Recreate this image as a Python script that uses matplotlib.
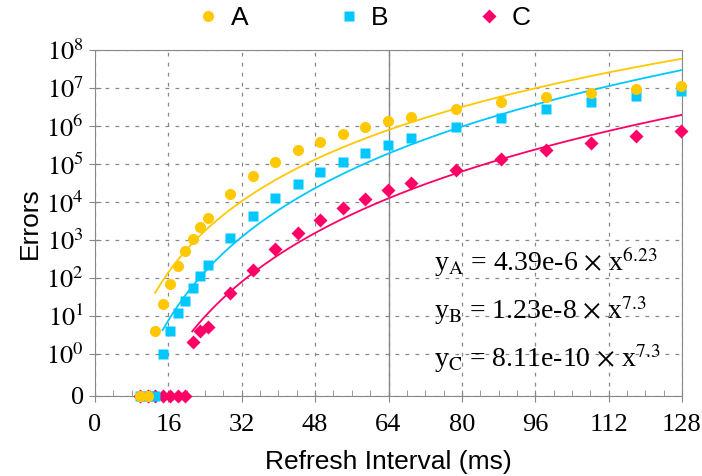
import numpy as np
import matplotlib
matplotlib.use('Agg')
import matplotlib.pyplot as plt
from matplotlib.ticker import NullLocator, FixedLocator

plt.rcParams['font.family'] = 'serif'
plt.rcParams['font.serif'] = ['Liberation Serif', 'DejaVu Serif']
plt.rcParams['mathtext.fontset'] = 'stix'

# data (zeros sit on the "0" row)
x_a = [9.8, 11.5, 13.1, 14.8, 16.4, 18.0, 19.7, 21.3, 23.0, 24.6, 29.5, 34.4, 39.3, 44.2,
       49.1, 54.0, 58.9, 63.8, 68.8, 78.7, 88.5, 98.3, 108.1, 117.9, 127.8]
y_a = [0, 0, 4, 21, 71, 200, 525, 1070, 2140, 3800, 16600, 49000, 115000, 229000,
       389000, 617000, 912000, 1.32e6, 1.74e6, 2.75e6, 4.17e6, 5.75e6, 7.41e6, 9.33e6, 1.15e7]

x_b = [9.8, 11.5, 13.1, 14.8, 16.4, 18.0, 19.7, 21.3, 23.0, 24.6, 29.5, 34.4, 39.3, 44.2,
       49.1, 54.0, 58.9, 63.8, 68.8, 78.7, 88.5, 98.3, 108.1, 117.9, 127.8]
y_b = [0, 0, 0, 1, 4, 12, 24, 54, 110, 214, 1120, 4170, 12600, 28800,
       61700, 112000, 195000, 316000, 479000, 955000, 1.66e6, 2.75e6, 4.17e6, 6.03e6, 8.13e6]

x_c = [9.8, 11.5, 13.1, 14.8, 16.4, 18.0, 19.7, 21.3, 23.0, 24.6, 29.5, 34.4, 39.3, 44.2,
       49.1, 54.0, 58.9, 63.8, 68.8, 78.7, 88.5, 98.3, 108.1, 117.9, 127.8]
y_c = [0, 0, 0, 0, 0, 0, 0, 2, 4, 5, 39, 158, 562, 1480,
       3310, 6760, 12000, 20400, 31600, 70800, 135000, 229000, 355000, 537000, 741000]

# fitted curves y = a * x^b  (a, b, first x of the curve)
fit_a = (4.39e-6, 6.23, 13.1)
fit_b = (1.23e-8, 7.3, 14.75)
fit_c = (8.11e-10, 7.3, 21.2)

names = ['A', 'B', 'C']
colors = ['#FFC800', '#00C8FF', '#FF0066']
markers = ['o', 's', 'D']
msizes = [8, 7.5, 7.5]

x_ticks = [0, 16, 32, 48, 64, 80, 96, 112, 128]
y_ticks = [0, 1, 10, 100, 1e3, 1e4, 1e5, 1e6, 1e7, 1e8]
y_labels = ['0'] + ['$10^{%d}$' % i for i in range(9)]

fig = plt.figure(figsize=(7.02, 4.76), dpi=100)
ax = fig.add_axes([95/702, 1-396/476, 587/702, 346/476])
ax.set_yscale('symlog', linthresh=1, linscale=1.0)

series = [(x_a, y_a, fit_a), (x_b, y_b, fit_b), (x_c, y_c, fit_c)]
handles = []
for i, (xs, ys, fit) in enumerate(series):
    z = 5 - i
    h, = ax.plot(xs, ys, linestyle='none', marker=markers[i], ms=msizes[i],
                 color=colors[i], mec='none', zorder=z + 3, clip_on=False, label=names[i])
    handles.append(h)
    a, b, x0 = fit
    xf = np.linspace(x0, 128, 300)
    ax.plot(xf, a * xf ** b, color=colors[i], lw=1.3, zorder=z)

ax.set_xlim(0, 128)
ax.set_ylim(0, 1e8)
ax.xaxis.set_major_locator(FixedLocator(x_ticks))
ax.xaxis.set_minor_locator(FixedLocator(np.arange(0, 129, 4)))
ax.yaxis.set_major_locator(FixedLocator(y_ticks))
ax.yaxis.set_minor_locator(NullLocator())
ax.set_yticklabels(y_labels)
ax.set_xticklabels([str(t) for t in x_ticks])

ax.grid(True, which='major', color='#888888', linestyle=(0, (3, 5)), lw=0.9)
ax.axvline(64, color='#888888', lw=1.0, zorder=1)
for s in ax.spines.values():
    s.set_color('#888888')
ax.tick_params(which='major', direction='inout', length=8, color='#888888',
               labelsize=19, pad=4, top=False, right=False)
ax.tick_params(axis='x', which='major', pad=9)
ax.tick_params(which='minor', direction='in', length=4, color='#888888')

ax.set_xlabel('Refresh Interval (ms)', family='Liberation Sans', fontsize=19, labelpad=10)
ax.set_ylabel('Errors', family='Liberation Sans', fontsize=19, labelpad=3)

eqs = [r'y$_{\rm A}$ = 4.39e-6 $\times$ x$^{6.23}$',
       r'y$_{\rm B}$ = 1.23e-8 $\times$ x$^{7.3}$',
       r'y$_{\rm C}$ = 8.11e-10 $\times$ x$^{7.3}$']
for i, t in enumerate(eqs):
    ax.text(0.577, [0.362, 0.222, 0.085][i], t, transform=ax.transAxes,
            fontsize=20, va='baseline', ha='left')

leg = ax.legend(handles=handles, loc='center', bbox_to_anchor=(0.456, 1.092), ncol=3,
                frameon=False, handletextpad=0.35, columnspacing=3.3, handlelength=1.0,
                prop={'family': 'Liberation Sans', 'size': 19})

fig.savefig('out.png', dpi=100)
